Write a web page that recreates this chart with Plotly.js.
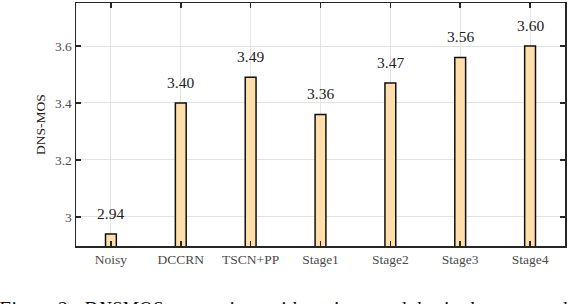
<!DOCTYPE html>
<html>
<head>
<meta charset="utf-8">
<script src="https://cdn.plot.ly/plotly-3.0.1.min.js"></script>
<style>html,body{margin:0;padding:0;background:#fff;}#chart{width:588px;height:304px;}</style>
</head>
<body>
<div id="chart"></div>
<script>
const categories = ["Noisy", "DCCRN", "TSCN+PP", "Stage1", "Stage2", "Stage3", "Stage4"];
const dnsmos = [2.94, 3.40, 3.49, 3.36, 3.47, 3.56, 3.60];
const yTicks = [3.0, 3.2, 3.4, 3.6];
const yTickLabels = ["3", "3.2", "3.4", "3.6"];
const yTitle = "DNS-MOS";
const caption = "Figure 2:  DNSMOS comparison with various modules in the proposed";

const font = "Liberation Serif, DejaVu Serif, serif";

const trace = {
  type: "bar",
  x: categories,
  y: dnsmos,
  width: 0.155,
  marker: { color: "#FFDEAA", line: { color: "#111", width: 1.5 } },
  hoverinfo: "skip"
};

const valueLabels = categories.map((c, i) => ({
  x: c, y: dnsmos[i], xref: "x", yref: "y",
  text: dnsmos[i].toFixed(2),
  xanchor: "center", yanchor: "bottom", yshift: 10,
  showarrow: false,
  font: { family: font, size: 15.5, color: "#222" }
}));

const layout = {
  width: 588, height: 304,
  margin: { l: 76, r: 23, t: 3, b: 58 },
  paper_bgcolor: "#fff", plot_bgcolor: "#fff",
  showlegend: false,
  font: { family: font, size: 12, color: "#333" },
  xaxis: {
    type: "category",
    range: [-0.5, 6.5],
    showline: true, linecolor: "#262626", linewidth: 1.5, mirror: "ticks",
    ticks: "inside", ticklen: 5, tickwidth: 1.5, tickcolor: "#262626",
    showgrid: true, gridcolor: "#e3e3e3", gridwidth: 1,
    tickfont: { family: font, size: 13.5, color: "#4a4a4a" },
    zeroline: false
  },
  yaxis: {
    range: [2.898, 3.751],
    tickvals: yTicks, ticktext: yTickLabels,
    showline: true, linecolor: "#262626", linewidth: 1.5, mirror: "ticks",
    ticks: "inside", ticklen: 5, tickwidth: 1.5, tickcolor: "#262626",
    showgrid: true, gridcolor: "#e3e3e3", gridwidth: 1,
    tickfont: { family: font, size: 13.5, color: "#4a4a4a" },
    zeroline: false,
    title: { text: yTitle, font: { family: font, size: 13.5, color: "#222" }, standoff: 6 }
  },
  annotations: valueLabels.concat([{
    text: "<i>" + caption + "</i>",
    xref: "paper", yref: "paper",
    x: -0.165, y: -0.205,
    xanchor: "left", yanchor: "top",
    showarrow: false,
    font: { family: font, size: 20, color: "#111" }
  }])
};

Plotly.newPlot("chart", [trace], layout, { displayModeBar: false, staticPlot: true });
</script>
</body>
</html>
